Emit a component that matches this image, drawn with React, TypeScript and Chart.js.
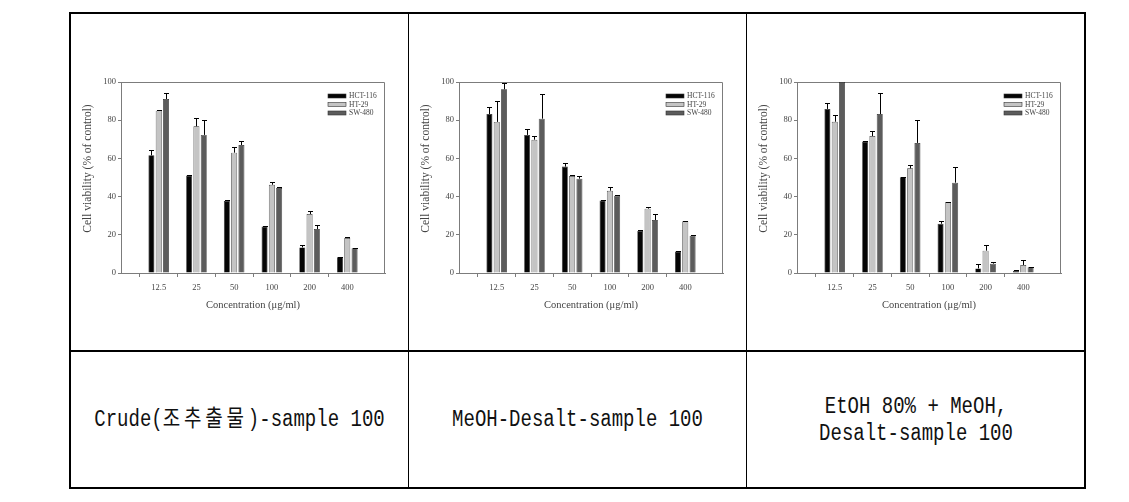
import React, { useEffect, useRef } from 'react';
import { Chart, registerables } from 'chart.js';

Chart.register(...registerables);

// ---------- data ----------
const concentrations = ['12.5', '25', '50', '100', '200', '400'];
const seriesNames = ['HCT-116', 'HT-29', 'SW-480'];
const seriesColors = ['#050505', '#c4c4c4', '#5c5c5c'];
const yTickValues = [0, 20, 40, 60, 80, 100];
const xAxisTitle = 'Concentration (\u03bcg/ml)';
const yAxisTitle = 'Cell viability (% of control)';

// Panel 1: Crude
const crudeHCT = [61.6, 51.0, 37.7, 24.3, 13.4, 8.2];
const crudeHCTErr = [3.0, 0.5, 0.3, 0.4, 1.2, 0.3];
const crudeHT = [85.0, 76.8, 63.0, 46.2, 30.9, 18.3];
const crudeHTErr = [0.3, 4.5, 2.8, 1.2, 1.7, 0.7];
const crudeSW = [91.1, 72.3, 67.0, 44.5, 23.0, 12.9];
const crudeSWErr = [3.0, 7.8, 2.3, 0.3, 2.1, 0.2];

// Panel 2: MeOH-Desalt
const meohHCT = [83.2, 72.3, 55.7, 37.9, 22.0, 11.2];
const meohHCTErr = [3.7, 3.1, 1.9, 0.3, 0.5, 0.2];
const meohHT = [79.1, 69.8, 50.8, 43.1, 33.7, 27.1];
const meohHTErr = [10.8, 1.8, 0.7, 2.1, 0.9, 0.3];
const meohSW = [96.2, 80.8, 49.4, 40.5, 27.7, 19.5];
const meohSWErr = [3.3, 12.7, 1.2, 0.4, 3.2, 0.2];

// Panel 3: EtOH 80% + MeOH, Desalt
const etohHCT = [85.9, 68.8, 50.1, 25.8, 2.4, 1.2];
const etohHCTErr = [3.0, 0.3, 0.3, 1.6, 2.1, 0.2];
const etohHT = [79.2, 71.7, 54.8, 37.0, 11.7, 4.2];
const etohHTErr = [3.5, 2.8, 1.7, 0.3, 3.0, 2.6];
const etohSW = [100, 83.2, 68.1, 47.3, 4.9, 3.0];
const etohSWErr = [0, 10.9, 12.0, 8.2, 0.9, 0.2];

const captions = [
  'Crude(조추출물)-sample 100',
  'MeOH-Desalt-sample 100',
  'EtOH 80% + MeOH,\nDesalt-sample 100',
];

const panels = [
  { values: [crudeHCT, crudeHT, crudeSW], errors: [crudeHCTErr, crudeHTErr, crudeSWErr] },
  { values: [meohHCT, meohHT, meohSW], errors: [meohHCTErr, meohHTErr, meohSWErr] },
  { values: [etohHCT, etohHT, etohSW], errors: [etohHCTErr, etohHTErr, etohSWErr] },
];

// ---------- styling ----------
const SERIF = '"Liberation Serif", "Times New Roman", serif';
const AXIS = '#7c7c7c';
const TEXT = '#444444';
const colLefts = [70, 408, 746];
const colRights = [408, 746, 1085];
const tableTop = 13;
const rowDivider = 350;
const tableBottom = 488;
const CANVAS_W = 322;
const CANVAS_H = 262;
const CANVAS_TOP = 60;

const decorPlugin = {
  id: 'decor',
  beforeDatasetsDraw(chart: any) {
    const { ctx, chartArea } = chart;
    ctx.save();
    ctx.strokeStyle = AXIS;
    ctx.lineWidth = 1;
    ctx.beginPath();
    ctx.moveTo(chartArea.left, chartArea.top + 0.5);
    ctx.lineTo(chartArea.right - 0.5, chartArea.top + 0.5);
    ctx.lineTo(chartArea.right - 0.5, chartArea.bottom);
    ctx.stroke();
    ctx.restore();
  },
  afterDatasetsDraw(chart: any) {
    const { ctx, chartArea } = chart;
    const yScale = chart.scales.y;
    ctx.save();
    // error bars (upper only)
    ctx.strokeStyle = '#000';
    ctx.lineWidth = 1;
    chart.data.datasets.forEach((ds: any, di: number) => {
      const meta = chart.getDatasetMeta(di);
      meta.data.forEach((bar: any, i: number) => {
        const v = ds.data[i];
        const e = ds.errors ? ds.errors[i] : null;
        if (v == null || e == null || e <= 0) return;
        const x = Math.round(bar.x) + 0.5;
        const y0 = yScale.getPixelForValue(v);
        const y1 = Math.round(yScale.getPixelForValue(v + e)) + 0.5;
        ctx.beginPath();
        ctx.moveTo(x, y0);
        ctx.lineTo(x, y1);
        ctx.moveTo(x - 2.5, y1);
        ctx.lineTo(x + 2.5, y1);
        ctx.stroke();
      });
    });
    // legend (top-right inside plot)
    const boxW = 18;
    const boxH = 4;
    const bx = chartArea.right - 57;
    ctx.font = `7.5px ${SERIF}`;
    ctx.textBaseline = 'middle';
    ctx.textAlign = 'left';
    chart.data.datasets.forEach((ds: any, di: number) => {
      const cy = chartArea.top + 14 + di * 8.5;
      ctx.fillStyle = ds.backgroundColor;
      ctx.fillRect(bx, cy - boxH / 2, boxW, boxH);
      ctx.strokeStyle = '#333';
      ctx.lineWidth = 0.6;
      ctx.strokeRect(bx, cy - boxH / 2, boxW, boxH);
      ctx.fillStyle = TEXT;
      ctx.fillText(ds.label, bx + boxW + 3, cy + 0.5);
    });
    // y-axis title
    ctx.save();
    ctx.translate(chartArea.left - 33, (chartArea.top + chartArea.bottom) / 2 - 9);
    ctx.rotate(-Math.PI / 2);
    ctx.font = `11.5px ${SERIF}`;
    ctx.textAlign = 'center';
    ctx.textBaseline = 'middle';
    ctx.fillStyle = TEXT;
    ctx.fillText(yAxisTitle, 0, 0);
    ctx.restore();
    ctx.restore();
  },
};

function BarPanel({ index }: { index: number }) {
  const ref = useRef<HTMLCanvasElement>(null);
  useEffect(() => {
    const canvas = ref.current;
    if (!canvas) return;
    const panel = panels[index];
    const labels = ['', ...concentrations, ''];
    const chart = new Chart(canvas, {
      type: 'bar',
      data: {
        labels,
        datasets: seriesNames.map((name, si) => ({
          label: name,
          data: [null, ...panel.values[si], null],
          errors: [null, ...panel.errors[si], null],
          backgroundColor: seriesColors[si],
          borderColor: '#2a2a2a',
          borderWidth: 0.7,
          categoryPercentage: 0.58,
          barPercentage: 0.82,
        })) as any,
      },
      options: {
        responsive: false,
        animation: false,
        devicePixelRatio: 1,
        layout: { padding: { top: 22, right: 15, left: 0, bottom: 0 } },
        plugins: { legend: { display: false }, tooltip: { enabled: false } },
        scales: {
          x: {
            type: 'category',
            offset: false,
            grid: {
              drawOnChartArea: false,
              drawTicks: true,
              tickLength: 4,
              color: (c: any) => (c.index === 0 || c.index === labels.length - 1 ? 'rgba(0,0,0,0)' : AXIS),
            },
            border: { display: true, color: AXIS, width: 1 },
            ticks: {
              autoSkip: false,
              maxRotation: 0,
              padding: 6,
              color: TEXT,
              font: { family: SERIF, size: 8.5 },
            },
            title: {
              display: true,
              text: xAxisTitle,
              color: TEXT,
              font: { family: SERIF, size: 10.5 },
              padding: { top: 0, bottom: 10 },
            },
            afterFit: (s: any) => {
              s.height = 49;
            },
          },
          y: {
            min: 0,
            max: 100,
            afterBuildTicks: (s: any) => {
              s.ticks = yTickValues.map((v) => ({ value: v }));
            },
            grid: { drawOnChartArea: false, drawTicks: true, tickLength: 3, color: AXIS },
            border: { display: true, color: AXIS, width: 1 },
            ticks: {
              padding: 2,
              color: TEXT,
              font: { family: SERIF, size: 8.5 },
            },
            afterFit: (s: any) => {
              s.width = 43;
            },
          },
        },
      } as any,
      plugins: [decorPlugin],
    });
    return () => chart.destroy();
  }, [index]);
  return (
    <canvas
      ref={ref}
      width={CANVAS_W}
      height={CANVAS_H}
      style={{
        position: 'absolute',
        left: colLefts[index] + 8,
        top: CANVAS_TOP,
        width: CANVAS_W,
        height: CANVAS_H,
      }}
    />
  );
}

function renderCaption(text: string) {
  return text.split('\n').map((line, li) => (
    <div key={li}>
      {line.split(/([\uac00-\ud7a3]+)/).map((part, pi) =>
        /[\uac00-\ud7a3]/.test(part) ? (
          <span key={pi} style={{ letterSpacing: '3.8px' }}>
            {part}
          </span>
        ) : (
          <span key={pi}>{part}</span>
        )
      )}
    </div>
  ));
}

export default function App() {
  return (
    <div style={{ position: 'absolute', left: 0, top: 0, width: 1129, height: 502, background: '#fff' }}>
      {/* table frame */}
      <div
        style={{
          position: 'absolute',
          left: 69,
          top: tableTop - 1,
          width: 1086 - 69,
          height: tableBottom + 1 - (tableTop - 1),
          border: '2px solid #000',
          boxSizing: 'border-box',
        }}
      />
      {[408, 746].map((x) => (
        <div
          key={x}
          style={{ position: 'absolute', left: x, top: tableTop, width: 1, height: tableBottom - tableTop, background: '#000' }}
        />
      ))}
      <div
        style={{ position: 'absolute', left: 70, top: rowDivider, width: 1085 - 70, height: 1.5, background: '#000' }}
      />
      {[0, 1, 2].map((i) => (
        <BarPanel key={i} index={i} />
      ))}
      {captions.map((c, i) => (
        <div
          key={i}
          style={{
            position: 'absolute',
            left: colLefts[i] + 1,
            width: colRights[i] - colLefts[i] - 1,
            top: rowDivider + 1,
            height: tableBottom - rowDivider - 1,
            display: 'flex',
            alignItems: 'center',
            justifyContent: 'center',
          }}
        >
          <div
            style={{
              fontFamily: '"Liberation Mono", "Noto Sans CJK KR", monospace',
              fontSize: 19,
              lineHeight: '22px',
              color: '#111',
              textAlign: 'center',
              whiteSpace: 'pre',
              transform: 'scaleY(1.22)',
            }}
          >
            {renderCaption(c)}
          </div>
        </div>
      ))}
    </div>
  );
}
